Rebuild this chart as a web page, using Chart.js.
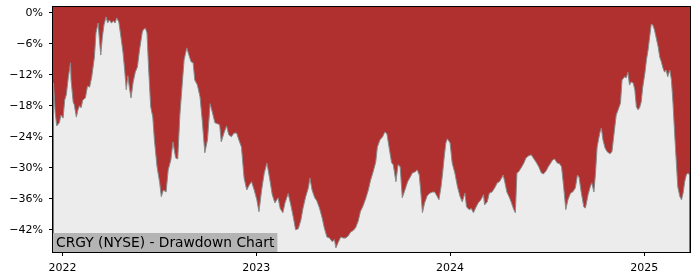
<!DOCTYPE html>
<html><head><meta charset="utf-8">
<script src="https://cdn.jsdelivr.net/npm/chart.js@4/dist/chart.umd.min.js"></script>
<style>html,body{margin:0;padding:0;background:#fff}#wrap{position:relative;width:700px;height:280px}</style>
</head><body><div id="wrap"><canvas id="c" width="700" height="280"></canvas></div>
<script>
const chartTitle = 'CRGY (NYSE) - Drawdown Chart';
const dates = [
'2021-12-15','2021-12-18','2021-12-21','2021-12-26','2021-12-29','2022-01-02','2022-01-05','2022-01-08','2022-01-12','2022-01-16',
'2022-01-17','2022-01-21','2022-01-23','2022-01-27','2022-01-30','2022-02-02','2022-02-05','2022-02-08','2022-02-13','2022-02-17',
'2022-02-21','2022-02-25','2022-03-02','2022-03-05','2022-03-09','2022-03-11','2022-03-14','2022-03-17','2022-03-20','2022-03-24',
'2022-03-27','2022-03-30','2022-04-03','2022-04-07','2022-04-10','2022-04-13','2022-04-17','2022-04-21','2022-04-25','2022-04-28',
'2022-05-01','2022-05-04','2022-05-07','2022-05-10','2022-05-14','2022-05-18','2022-05-22','2022-05-26','2022-05-31','2022-06-02',
'2022-06-06','2022-06-09','2022-06-12','2022-06-16','2022-06-20','2022-06-23','2022-06-28','2022-07-03','2022-07-06','2022-07-10',
'2022-07-15','2022-07-19','2022-07-24','2022-07-28','2022-08-02','2022-08-06','2022-08-10','2022-08-14','2022-08-18','2022-08-23',
'2022-08-27','2022-08-31','2022-09-04','2022-09-07','2022-09-12','2022-09-17','2022-09-21','2022-09-26','2022-10-01','2022-10-06',
'2022-10-10','2022-10-15','2022-10-20','2022-10-24','2022-10-27','2022-11-01','2022-11-06','2022-11-10','2022-11-15','2022-11-20',
'2022-11-25','2022-11-29','2022-12-04','2022-12-09','2022-12-14','2022-12-19','2022-12-23','2022-12-28','2023-01-02','2023-01-06',
'2023-01-11','2023-01-16','2023-01-21','2023-01-26','2023-01-31','2023-02-05','2023-02-11','2023-02-15','2023-02-20','2023-02-24',
'2023-03-02','2023-03-07','2023-03-12','2023-03-16','2023-03-21','2023-03-26','2023-03-30','2023-04-04','2023-04-09','2023-04-12',
'2023-04-16','2023-04-21','2023-04-25','2023-04-30','2023-05-05','2023-05-09','2023-05-14','2023-05-19','2023-05-24','2023-05-28',
'2023-05-31','2023-06-04','2023-06-09','2023-06-14','2023-06-18','2023-06-23','2023-06-28','2023-07-02','2023-07-07','2023-07-12',
'2023-07-16','2023-07-21','2023-07-26','2023-07-31','2023-08-04','2023-08-09','2023-08-14','2023-08-17','2023-08-22','2023-08-27',
'2023-08-31','2023-09-04','2023-09-08','2023-09-13','2023-09-16','2023-09-21','2023-09-25','2023-09-29','2023-10-03','2023-10-08',
'2023-10-13','2023-10-18','2023-10-22','2023-10-27','2023-10-31','2023-11-04','2023-11-07','2023-11-10','2023-11-14','2023-11-19',
'2023-11-24','2023-11-29','2023-12-03','2023-12-07','2023-12-11','2023-12-15','2023-12-18','2023-12-21','2023-12-24','2023-12-27',
'2024-01-01','2024-01-05','2024-01-10','2024-01-15','2024-01-20','2024-01-24','2024-01-29','2024-02-01','2024-02-06','2024-02-10',
'2024-02-14','2024-02-18','2024-02-23','2024-02-28','2024-03-04','2024-03-06','2024-03-11','2024-03-15','2024-03-20','2024-03-25',
'2024-03-30','2024-04-03','2024-04-07','2024-04-10','2024-04-13','2024-04-17','2024-04-22','2024-04-25','2024-04-30','2024-05-03',
'2024-05-06','2024-05-09','2024-05-14','2024-05-19','2024-05-23','2024-05-28','2024-06-02','2024-06-07','2024-06-11','2024-06-16',
'2024-06-21','2024-06-25','2024-06-30','2024-07-04','2024-07-08','2024-07-12','2024-07-16','2024-07-21','2024-07-25','2024-07-29',
'2024-08-02','2024-08-06','2024-08-10','2024-08-15','2024-08-19','2024-08-24','2024-08-28','2024-08-31','2024-09-04','2024-09-09',
'2024-09-12','2024-09-17','2024-09-21','2024-09-24','2024-09-28','2024-10-01','2024-10-04','2024-10-09','2024-10-12','2024-10-15',
'2024-10-19','2024-10-23','2024-10-28','2024-11-01','2024-11-05','2024-11-09','2024-11-14','2024-11-17','2024-11-20','2024-11-25',
'2024-11-28','2024-12-01','2024-12-04','2024-12-07','2024-12-11','2024-12-14','2024-12-17','2024-12-20','2024-12-23','2024-12-26',
'2024-12-29','2025-01-02','2025-01-05','2025-01-08','2025-01-11','2025-01-14','2025-01-17','2025-01-20','2025-01-23','2025-01-27',
'2025-01-30','2025-02-02','2025-02-05','2025-02-08','2025-02-11','2025-02-14','2025-02-18','2025-02-21','2025-02-24','2025-02-27',
'2025-03-02','2025-03-05','2025-03-09','2025-03-12','2025-03-15','2025-03-18','2025-03-21','2025-03-24','2025-03-27'
];
const drawdown = [
-13.6,-19.2,-21.9,-21.3,-19.8,-20.4,-16.9,-15.9,-12.4,-9.7,
-13.0,-17.3,-17.8,-20.2,-18.8,-18.0,-18.4,-16.9,-16.5,-14.2,
-14.4,-12.4,-8.6,-3.9,-2.0,-4.7,-8.2,-4.7,-2.4,-0.8,
-2.0,-1.4,-2.0,-1.6,-2.0,-1.0,-1.8,-4.7,-7.8,-11.1,
-14.9,-12.2,-14.6,-16.5,-13.4,-11.5,-10.5,-7.2,-3.9,-3.3,
-3.0,-3.9,-10.5,-18.2,-20.2,-24.6,-29.8,-32.9,-35.6,-34.3,
-34.7,-30.4,-28.5,-25.0,-28.1,-28.3,-19.8,-14.4,-9.1,-6.8,
-8.2,-9.5,-9.7,-13.0,-14.0,-16.3,-20.7,-27.1,-24.6,-17.6,
-19.2,-21.3,-21.5,-21.7,-25.0,-23.3,-21.9,-23.6,-24.0,-23.3,
-23.3,-24.6,-26.0,-32.0,-34.3,-33.3,-32.7,-34.3,-36.2,-38.5,
-34.3,-31.0,-29.1,-32.0,-35.2,-36.8,-35.8,-37.9,-38.7,-36.8,
-35.0,-37.2,-39.7,-42.0,-41.8,-40.1,-37.8,-35.6,-33.9,-32.0,
-34.3,-35.8,-36.4,-37.8,-39.7,-41.6,-43.4,-43.6,-44.3,-43.9,
-45.5,-44.5,-43.4,-43.6,-43.6,-43.2,-42.4,-42.2,-41.6,-40.3,
-38.5,-37.4,-36.0,-34.3,-32.5,-30.8,-28.9,-26.0,-24.6,-24.0,
-23.1,-23.4,-26.0,-29.1,-29.4,-32.7,-29.4,-29.8,-35.8,-34.3,
-32.7,-31.8,-31.0,-30.8,-30.4,-31.4,-34.9,-38.7,-36.8,-35.4,
-34.9,-34.7,-34.7,-35.4,-36.2,-33.7,-31.0,-27.9,-25.2,-24.4,
-25.2,-29.1,-31.0,-33.7,-35.6,-36.6,-34.9,-37.6,-38.1,-37.9,
-38.7,-37.8,-36.8,-36.2,-35.2,-37.2,-36.6,-34.9,-34.7,-33.9,
-32.9,-32.7,-32.0,-31.4,-32.7,-34.7,-35.8,-36.6,-38.1,-38.7,
-31.0,-30.8,-30.0,-29.1,-28.1,-27.7,-27.5,-28.3,-28.9,-29.8,
-31.0,-31.2,-30.6,-29.8,-29.2,-28.5,-28.3,-29.1,-29.2,-29.8,
-33.7,-38.1,-36.2,-34.9,-34.7,-33.9,-31.4,-31.8,-34.7,-37.6,
-37.8,-35.2,-33.7,-32.9,-34.7,-31.0,-26.0,-23.3,-22.3,-24.6,
-26.2,-26.9,-27.3,-26.9,-23.3,-19.8,-18.4,-17.5,-13.0,-12.4,
-12.6,-11.5,-14.0,-13.4,-13.6,-14.9,-18.2,-18.8,-18.4,-17.3,
-14.4,-11.7,-9.1,-7.2,-4.7,-2.2,-2.4,-3.3,-4.7,-6.6,
-8.6,-9.5,-10.7,-11.5,-11.1,-12.4,-11.1,-13.0,-17.5,-23.3,
-28.5,-33.7,-35.6,-36.2,-34.9,-32.7,-31.4,-31.0,-31.4
];
const yTicks = [0, -6, -12, -18, -24, -30, -36, -42];
const xTickDates = ['2022-01-01', '2023-01-01', '2024-01-01', '2025-01-01'];
const xRange = ['2021-12-14', '2025-03-28'];
const yRange = [-46.3, 1.1];

const points = dates.map((d, i) => ({ x: Date.parse(d), y: drawdown[i] }));
const FONT = 'DejaVu Sans';

const bgPlugin = {
  id: 'bg',
  beforeDatasetsDraw(chart) {
    const { ctx, chartArea: a } = chart;
    ctx.save();
    ctx.fillStyle = '#b03030';
    ctx.fillRect(a.left, a.top, a.right - a.left, a.bottom - a.top);
    ctx.restore();
  },
  afterDatasetsDraw(chart) {
    const { ctx, chartArea: a } = chart;
    ctx.save();
    ctx.font = '13.8px "' + FONT + '"';
    const w = ctx.measureText(chartTitle).width;
    ctx.fillStyle = '#b4b4b4';
    ctx.fillRect(a.left, a.bottom - 19, w + 6, 19);
    ctx.fillStyle = '#000';
    ctx.textBaseline = 'middle';
    ctx.fillText(chartTitle, a.left + 3, a.bottom - 9);
    ctx.restore();
  },
  afterDraw(chart) {
    const { ctx, chartArea: a } = chart;
    ctx.save();
    ctx.strokeStyle = '#000';
    ctx.lineWidth = 1;
    ctx.strokeRect(a.left - 0.5, a.top - 0.5, a.right - a.left + 1, a.bottom - a.top + 1);
    ctx.restore();
  }
};

function zeroPad(s) { s.paddingTop = 0; s.paddingBottom = 0; s.paddingLeft = 0; s.paddingRight = 0; }

new Chart(document.getElementById('c'), {
  type: 'line',
  data: {
    datasets: [{
      data: points,
      borderColor: '#8a8a8a',
      borderWidth: 1,
      backgroundColor: '#ececec',
      fill: 'start',
      pointRadius: 0,
      tension: 0
    }]
  },
  options: {
    responsive: false,
    animation: false,
    devicePixelRatio: 1,
    parsing: false,
    layout: { padding: { left: 0, right: 10, top: 7, bottom: 0 } },
    plugins: { legend: { display: false }, tooltip: { enabled: false } },
    scales: {
      x: {
        type: 'linear',
        min: Date.parse(xRange[0]),
        max: Date.parse(xRange[1]),
        afterBuildTicks(s) { s.ticks = xTickDates.map(d => ({ value: Date.parse(d) })); },
        afterFit(s) { s.height = 28; zeroPad(s); },
        border: { display: false },
        grid: { display: true, drawOnChartArea: false, drawTicks: true, tickLength: 4, color: '#000', lineWidth: 1 },
        ticks: {
          padding: 6,
          color: '#000',
          font: { family: FONT, size: 11 },
          maxRotation: 0,
          autoSkip: false,
          callback: v => String(new Date(v).getUTCFullYear())
        }
      },
      y: {
        min: yRange[0],
        max: yRange[1],
        afterBuildTicks(s) { s.ticks = yTicks.map(v => ({ value: v })); },
        afterFit(s) { s.width = 53; zeroPad(s); },
        border: { display: false },
        grid: { display: true, drawOnChartArea: false, drawTicks: true, tickLength: 4, color: '#000', lineWidth: 1 },
        ticks: {
          padding: 6,
          color: '#000',
          font: { family: FONT, size: 11 },
          autoSkip: false,
          callback: v => (v === 0 ? '0%' : '\u2212' + Math.abs(v) + '%')
        }
      }
    }
  },
  plugins: [bgPlugin]
});
</script>
</body></html>
